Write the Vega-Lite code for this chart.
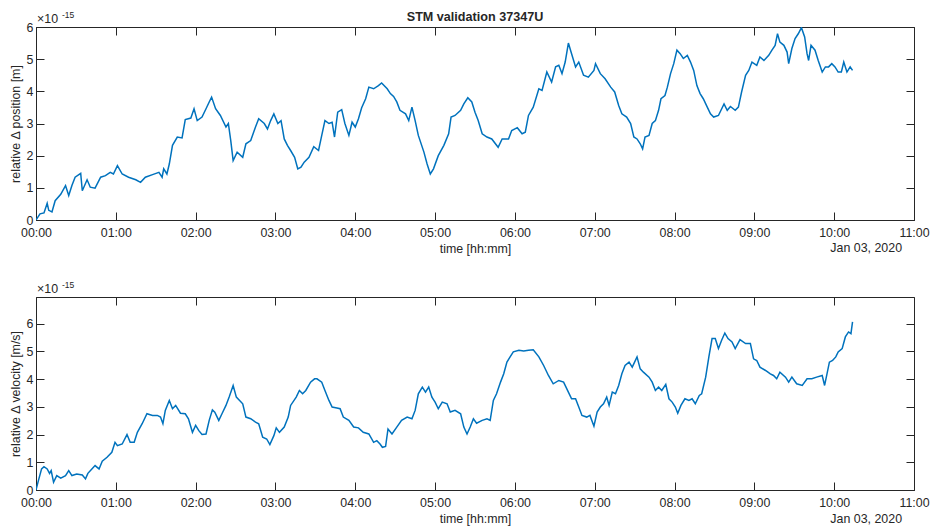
{
"$schema": "https://vega.github.io/schema/vega-lite/v6.json",
"padding": {"left": 8, "top": 10, "right": 0, "bottom": 0},
"background": "white",
"spacing": 24,
"config": {
  "font": "Liberation Sans",
  "view": {"stroke": "#262626", "strokeWidth": 1},
  "axis": {"domainColor": "#262626", "tickColor": "#262626", "labelColor": "#262626", "titleColor": "#262626", "labelFont": "Liberation Sans", "titleFont": "Liberation Sans", "labelFontSize": 12.4, "titleFontSize": 12.4, "titleFontWeight": "normal", "grid": false, "tickSize": -8, "tickWidth": 1, "domainWidth": 1, "labelFlush": false, "labelOverlap": false},
  "text": {"font": "Liberation Sans", "color": "#262626"}
},
"datasets": {
"pos": [{"h":0,"v":0},{"h":0.05,"v":0.19},{"h":0.1,"v":0.22},{"h":0.14,"v":0.52},{"h":0.16,"v":0.3},{"h":0.2,"v":0.25},{"h":0.24,"v":0.6},{"h":0.31,"v":0.8},{"h":0.37,"v":1.07},{"h":0.41,"v":0.76},{"h":0.45,"v":1.07},{"h":0.49,"v":1.33},{"h":0.56,"v":1.45},{"h":0.58,"v":0.91},{"h":0.64,"v":1.25},{"h":0.68,"v":1.02},{"h":0.74,"v":0.99},{"h":0.81,"v":1.33},{"h":0.87,"v":1.38},{"h":0.93,"v":1.48},{"h":0.97,"v":1.43},{"h":1.02,"v":1.69},{"h":1.08,"v":1.43},{"h":1.16,"v":1.33},{"h":1.25,"v":1.25},{"h":1.31,"v":1.17},{"h":1.37,"v":1.33},{"h":1.46,"v":1.41},{"h":1.54,"v":1.48},{"h":1.58,"v":1.33},{"h":1.6,"v":1.59},{"h":1.64,"v":1.43},{"h":1.67,"v":1.74},{"h":1.71,"v":2.32},{"h":1.77,"v":2.58},{"h":1.83,"v":2.55},{"h":1.87,"v":3.12},{"h":1.94,"v":3.17},{"h":1.98,"v":3.46},{"h":2.02,"v":3.09},{"h":2.08,"v":3.2},{"h":2.13,"v":3.46},{"h":2.17,"v":3.67},{"h":2.2,"v":3.82},{"h":2.25,"v":3.46},{"h":2.31,"v":3.25},{"h":2.38,"v":2.89},{"h":2.41,"v":3.0},{"h":2.44,"v":2.47},{"h":2.47,"v":1.85},{"h":2.52,"v":2.11},{"h":2.59,"v":1.95},{"h":2.63,"v":2.37},{"h":2.69,"v":2.47},{"h":2.75,"v":2.89},{"h":2.79,"v":3.15},{"h":2.86,"v":3.0},{"h":2.9,"v":2.83},{"h":2.94,"v":3.09},{"h":2.98,"v":3.3},{"h":3.03,"v":3.0},{"h":3.07,"v":3.09},{"h":3.11,"v":2.52},{"h":3.15,"v":2.32},{"h":3.19,"v":2.16},{"h":3.24,"v":1.95},{"h":3.28,"v":1.59},{"h":3.32,"v":1.64},{"h":3.36,"v":1.8},{"h":3.42,"v":1.95},{"h":3.48,"v":2.28},{"h":3.54,"v":2.16},{"h":3.58,"v":2.63},{"h":3.62,"v":3.09},{"h":3.67,"v":3.0},{"h":3.71,"v":3.04},{"h":3.74,"v":2.58},{"h":3.78,"v":3.35},{"h":3.83,"v":3.43},{"h":3.87,"v":3.0},{"h":3.92,"v":2.63},{"h":3.96,"v":3.04},{"h":4.0,"v":2.89},{"h":4.04,"v":3.15},{"h":4.08,"v":3.49},{"h":4.13,"v":3.77},{"h":4.17,"v":4.13},{"h":4.23,"v":4.08},{"h":4.29,"v":4.18},{"h":4.33,"v":4.26},{"h":4.4,"v":4.08},{"h":4.44,"v":3.93},{"h":4.48,"v":3.84},{"h":4.52,"v":3.67},{"h":4.56,"v":3.41},{"h":4.63,"v":3.3},{"h":4.67,"v":3.09},{"h":4.71,"v":3.51},{"h":4.75,"v":3.09},{"h":4.79,"v":2.63},{"h":4.86,"v":2.11},{"h":4.9,"v":1.74},{"h":4.94,"v":1.43},{"h":4.98,"v":1.59},{"h":5.04,"v":2.0},{"h":5.11,"v":2.32},{"h":5.17,"v":2.68},{"h":5.2,"v":3.2},{"h":5.25,"v":3.25},{"h":5.32,"v":3.41},{"h":5.36,"v":3.61},{"h":5.41,"v":3.8},{"h":5.46,"v":3.67},{"h":5.5,"v":3.35},{"h":5.54,"v":3.09},{"h":5.59,"v":2.68},{"h":5.65,"v":2.58},{"h":5.71,"v":2.52},{"h":5.79,"v":2.26},{"h":5.84,"v":2.52},{"h":5.92,"v":2.52},{"h":5.96,"v":2.78},{"h":6.03,"v":2.87},{"h":6.09,"v":2.68},{"h":6.13,"v":2.73},{"h":6.17,"v":3.25},{"h":6.23,"v":3.51},{"h":6.3,"v":4.08},{"h":6.34,"v":4.03},{"h":6.4,"v":4.6},{"h":6.46,"v":4.29},{"h":6.51,"v":4.76},{"h":6.55,"v":4.81},{"h":6.59,"v":4.55},{"h":6.63,"v":4.91},{"h":6.67,"v":5.5},{"h":6.71,"v":5.17},{"h":6.76,"v":4.76},{"h":6.8,"v":4.91},{"h":6.86,"v":4.5},{"h":6.92,"v":4.44},{"h":6.99,"v":4.65},{"h":7.01,"v":4.86},{"h":7.07,"v":4.55},{"h":7.13,"v":4.39},{"h":7.2,"v":4.13},{"h":7.25,"v":3.98},{"h":7.3,"v":3.56},{"h":7.34,"v":3.3},{"h":7.4,"v":3.2},{"h":7.45,"v":3.0},{"h":7.49,"v":2.58},{"h":7.53,"v":2.52},{"h":7.57,"v":2.37},{"h":7.6,"v":2.21},{"h":7.63,"v":2.58},{"h":7.68,"v":2.63},{"h":7.72,"v":3.0},{"h":7.76,"v":3.09},{"h":7.8,"v":3.41},{"h":7.83,"v":3.77},{"h":7.88,"v":3.87},{"h":7.91,"v":4.13},{"h":7.95,"v":4.55},{"h":7.99,"v":4.86},{"h":8.03,"v":5.28},{"h":8.07,"v":5.17},{"h":8.11,"v":5.02},{"h":8.16,"v":5.12},{"h":8.2,"v":4.91},{"h":8.24,"v":4.65},{"h":8.28,"v":4.18},{"h":8.32,"v":3.93},{"h":8.36,"v":3.77},{"h":8.41,"v":3.51},{"h":8.45,"v":3.3},{"h":8.49,"v":3.2},{"h":8.55,"v":3.25},{"h":8.62,"v":3.61},{"h":8.66,"v":3.41},{"h":8.7,"v":3.53},{"h":8.76,"v":3.41},{"h":8.8,"v":3.51},{"h":8.84,"v":3.98},{"h":8.89,"v":4.5},{"h":8.93,"v":4.65},{"h":8.97,"v":4.91},{"h":9.03,"v":4.81},{"h":9.07,"v":5.07},{"h":9.12,"v":4.96},{"h":9.18,"v":5.12},{"h":9.22,"v":5.28},{"h":9.26,"v":5.43},{"h":9.29,"v":5.79},{"h":9.32,"v":5.53},{"h":9.37,"v":5.43},{"h":9.41,"v":5.22},{"h":9.43,"v":4.86},{"h":9.47,"v":5.33},{"h":9.51,"v":5.64},{"h":9.55,"v":5.79},{"h":9.59,"v":5.98},{"h":9.63,"v":5.69},{"h":9.66,"v":5.17},{"h":9.68,"v":4.96},{"h":9.71,"v":5.43},{"h":9.76,"v":5.28},{"h":9.8,"v":4.96},{"h":9.85,"v":4.6},{"h":9.89,"v":4.76},{"h":9.93,"v":4.76},{"h":9.97,"v":4.86},{"h":10.01,"v":4.76},{"h":10.05,"v":4.6},{"h":10.09,"v":4.6},{"h":10.12,"v":4.91},{"h":10.16,"v":4.6},{"h":10.2,"v":4.76},{"h":10.23,"v":4.65}],
"vel": [{"h":0,"v":0},{"h":0.03,"v":0.34},{"h":0.07,"v":0.76},{"h":0.1,"v":0.84},{"h":0.14,"v":0.76},{"h":0.17,"v":0.6},{"h":0.19,"v":0.7},{"h":0.22,"v":0.28},{"h":0.26,"v":0.52},{"h":0.31,"v":0.43},{"h":0.37,"v":0.52},{"h":0.41,"v":0.7},{"h":0.45,"v":0.52},{"h":0.51,"v":0.58},{"h":0.58,"v":0.54},{"h":0.62,"v":0.4},{"h":0.65,"v":0.6},{"h":0.7,"v":0.76},{"h":0.74,"v":0.88},{"h":0.79,"v":0.76},{"h":0.83,"v":1.04},{"h":0.89,"v":1.18},{"h":0.95,"v":1.36},{"h":0.99,"v":1.72},{"h":1.02,"v":1.6},{"h":1.08,"v":1.66},{"h":1.14,"v":2.0},{"h":1.18,"v":1.72},{"h":1.23,"v":1.72},{"h":1.27,"v":2.08},{"h":1.33,"v":2.39},{"h":1.39,"v":2.75},{"h":1.46,"v":2.69},{"h":1.52,"v":2.69},{"h":1.56,"v":2.63},{"h":1.59,"v":2.39},{"h":1.62,"v":2.87},{"h":1.67,"v":3.23},{"h":1.71,"v":2.93},{"h":1.75,"v":3.05},{"h":1.81,"v":2.77},{"h":1.87,"v":2.75},{"h":1.91,"v":2.57},{"h":1.96,"v":2.08},{"h":2.0,"v":2.33},{"h":2.04,"v":2.14},{"h":2.08,"v":2.0},{"h":2.13,"v":2.02},{"h":2.17,"v":2.51},{"h":2.21,"v":2.89},{"h":2.24,"v":2.81},{"h":2.29,"v":2.51},{"h":2.33,"v":2.75},{"h":2.38,"v":3.05},{"h":2.42,"v":3.35},{"h":2.47,"v":3.77},{"h":2.51,"v":3.35},{"h":2.59,"v":3.11},{"h":2.63,"v":2.63},{"h":2.69,"v":2.57},{"h":2.75,"v":2.45},{"h":2.79,"v":2.39},{"h":2.84,"v":1.9},{"h":2.89,"v":1.84},{"h":2.93,"v":1.64},{"h":2.98,"v":1.96},{"h":3.01,"v":2.24},{"h":3.05,"v":2.08},{"h":3.11,"v":2.27},{"h":3.16,"v":2.63},{"h":3.19,"v":3.05},{"h":3.26,"v":3.35},{"h":3.3,"v":3.59},{"h":3.34,"v":3.47},{"h":3.38,"v":3.59},{"h":3.44,"v":3.89},{"h":3.49,"v":4.01},{"h":3.52,"v":4.01},{"h":3.58,"v":3.89},{"h":3.62,"v":3.59},{"h":3.67,"v":3.23},{"h":3.71,"v":2.99},{"h":3.77,"v":2.96},{"h":3.81,"v":2.93},{"h":3.85,"v":2.63},{"h":3.92,"v":2.51},{"h":3.98,"v":2.27},{"h":4.04,"v":2.24},{"h":4.1,"v":2.08},{"h":4.17,"v":2.02},{"h":4.23,"v":1.72},{"h":4.27,"v":1.78},{"h":4.31,"v":1.66},{"h":4.34,"v":1.54},{"h":4.38,"v":1.57},{"h":4.41,"v":2.2},{"h":4.46,"v":2.02},{"h":4.52,"v":2.27},{"h":4.58,"v":2.51},{"h":4.65,"v":2.63},{"h":4.71,"v":2.57},{"h":4.75,"v":2.87},{"h":4.79,"v":3.47},{"h":4.84,"v":3.71},{"h":4.88,"v":3.53},{"h":4.92,"v":3.71},{"h":4.96,"v":3.35},{"h":5.0,"v":3.17},{"h":5.04,"v":2.93},{"h":5.09,"v":3.17},{"h":5.15,"v":3.11},{"h":5.19,"v":2.81},{"h":5.25,"v":2.87},{"h":5.32,"v":2.75},{"h":5.36,"v":2.27},{"h":5.4,"v":2.02},{"h":5.44,"v":2.27},{"h":5.48,"v":2.57},{"h":5.52,"v":2.41},{"h":5.59,"v":2.51},{"h":5.65,"v":2.57},{"h":5.69,"v":2.51},{"h":5.73,"v":3.23},{"h":5.77,"v":3.47},{"h":5.82,"v":3.89},{"h":5.86,"v":4.19},{"h":5.9,"v":4.61},{"h":5.94,"v":4.8},{"h":5.98,"v":4.98},{"h":6.05,"v":5.04},{"h":6.11,"v":5.01},{"h":6.17,"v":5.04},{"h":6.23,"v":5.06},{"h":6.3,"v":4.8},{"h":6.36,"v":4.49},{"h":6.42,"v":4.13},{"h":6.48,"v":3.83},{"h":6.55,"v":3.95},{"h":6.61,"v":3.89},{"h":6.67,"v":3.53},{"h":6.71,"v":3.29},{"h":6.76,"v":3.29},{"h":6.8,"v":2.99},{"h":6.84,"v":2.69},{"h":6.9,"v":2.63},{"h":6.94,"v":2.69},{"h":6.99,"v":2.3},{"h":7.03,"v":2.81},{"h":7.07,"v":2.99},{"h":7.11,"v":3.11},{"h":7.15,"v":3.35},{"h":7.18,"v":3.05},{"h":7.22,"v":3.53},{"h":7.26,"v":3.47},{"h":7.3,"v":3.77},{"h":7.34,"v":4.19},{"h":7.38,"v":4.49},{"h":7.43,"v":4.61},{"h":7.47,"v":4.43},{"h":7.53,"v":4.8},{"h":7.57,"v":4.37},{"h":7.61,"v":4.25},{"h":7.68,"v":4.07},{"h":7.72,"v":3.89},{"h":7.76,"v":3.59},{"h":7.8,"v":3.71},{"h":7.84,"v":3.59},{"h":7.89,"v":3.81},{"h":7.93,"v":3.29},{"h":7.97,"v":3.17},{"h":8.01,"v":2.99},{"h":8.04,"v":2.77},{"h":8.08,"v":3.05},{"h":8.13,"v":3.29},{"h":8.18,"v":3.23},{"h":8.22,"v":3.29},{"h":8.26,"v":3.11},{"h":8.31,"v":3.41},{"h":8.34,"v":3.47},{"h":8.39,"v":4.07},{"h":8.43,"v":4.8},{"h":8.47,"v":5.46},{"h":8.51,"v":5.46},{"h":8.55,"v":5.1},{"h":8.59,"v":5.4},{"h":8.63,"v":5.66},{"h":8.67,"v":5.46},{"h":8.72,"v":5.34},{"h":8.76,"v":5.1},{"h":8.82,"v":5.42},{"h":8.89,"v":5.28},{"h":8.95,"v":5.28},{"h":8.99,"v":4.73},{"h":9.03,"v":4.67},{"h":9.07,"v":4.43},{"h":9.14,"v":4.31},{"h":9.2,"v":4.19},{"h":9.24,"v":4.13},{"h":9.28,"v":4.01},{"h":9.32,"v":4.25},{"h":9.39,"v":4.07},{"h":9.43,"v":3.89},{"h":9.47,"v":4.07},{"h":9.53,"v":3.83},{"h":9.6,"v":3.77},{"h":9.66,"v":4.01},{"h":9.72,"v":4.01},{"h":9.78,"v":4.07},{"h":9.85,"v":4.13},{"h":9.88,"v":3.77},{"h":9.91,"v":4.19},{"h":9.94,"v":4.61},{"h":9.98,"v":4.67},{"h":10.02,"v":4.8},{"h":10.05,"v":4.98},{"h":10.1,"v":5.1},{"h":10.14,"v":5.52},{"h":10.18,"v":5.7},{"h":10.21,"v":5.64},{"h":10.23,"v":6.06}],
"note": [{"t": "Jan 03, 2020"}],
"mult": [{"t": "×10"}],
"exp": [{"t": "-15"}],
"ttl": [{"t": "STM validation 37347U"}]
},
"vconcat": [
 {
  "width": 878, "height": 193,
  "layer": [
   {"data": {"name": "pos"}, "mark": {"type": "line", "color": "#0072BD", "strokeWidth": 1.5, "clip": true},
    "encoding": {
     "x": {"field": "h", "type": "quantitative", "scale": {"domain": [0, 11], "nice": false, "zero": false},
       "axis": {"orient": "bottom", "values": [0,1,2,3,4,5,6,7,8,9,10,11], "labelExpr": "(datum.value < 10 ? '0' : '') + datum.value + ':00'", "labelPadding": 14, "title": "time [hh:mm]", "titlePadding": 4}},
     "y": {"field": "v", "type": "quantitative", "scale": {"domain": [0, 6], "nice": false},
       "axis": {"orient": "left", "values": [0,1,2,3,4,5,6], "format": "d", "labelPadding": 11, "title": "relative Δ position [m]", "titlePadding": 4}}
    }},
   {"data": {"name": "pos"}, "mark": {"type": "line", "opacity": 0},
    "encoding": {
     "x": {"field": "h", "type": "quantitative", "axis": {"orient": "top", "values": [0,1,2,3,4,5,6,7,8,9,10,11], "labels": false, "domain": false, "title": null}},
     "y": {"field": "v", "type": "quantitative", "axis": {"orient": "right", "values": [0,1,2,3,4,5,6], "labels": false, "domain": false, "title": null}}
    }},
   {"data": {"name": "ttl"}, "mark": {"type": "text", "align": "center", "baseline": "middle", "fontSize": 12.6, "fontWeight": "bold"},
    "encoding": {"text": {"field": "t"}, "x": {"datum": 5.5, "axis": null}, "y": {"datum": 6.31, "axis": null}}},
   {"data": {"name": "note"}, "mark": {"type": "text", "align": "right", "baseline": "middle", "fontSize": 12.4},
    "encoding": {"text": {"field": "t"}, "x": {"datum": 10.85, "axis": null}, "y": {"datum": -0.87, "axis": null}}},
   {"data": {"name": "mult"}, "mark": {"type": "text", "align": "left", "baseline": "alphabetic", "fontSize": 12.4, "dx": 1},
    "encoding": {"text": {"field": "t"}, "x": {"datum": 0, "axis": null}, "y": {"datum": 6.115, "axis": null}}},
   {"data": {"name": "exp"}, "mark": {"type": "text", "align": "left", "baseline": "alphabetic", "fontSize": 8.5, "dx": 26},
    "encoding": {"text": {"field": "t"}, "x": {"datum": 0, "axis": null}, "y": {"datum": 6.27, "axis": null}}}
  ],
  "resolve": {"axis": {"x": "independent", "y": "independent"}}
 },
 {
  "width": 878, "height": 193,
  "layer": [
   {"data": {"name": "vel"}, "mark": {"type": "line", "color": "#0072BD", "strokeWidth": 1.5, "clip": true},
    "encoding": {
     "x": {"field": "h", "type": "quantitative", "scale": {"domain": [0, 11], "nice": false, "zero": false},
       "axis": {"orient": "bottom", "values": [0,1,2,3,4,5,6,7,8,9,10,11], "labelExpr": "(datum.value < 10 ? '0' : '') + datum.value + ':00'", "labelPadding": 14, "title": "time [hh:mm]", "titlePadding": 4}},
     "y": {"field": "v", "type": "quantitative", "scale": {"domain": [0, 6.96], "nice": false},
       "axis": {"orient": "left", "values": [0,1,2,3,4,5,6], "format": "d", "labelPadding": 11, "title": "relative Δ velocity [m/s]", "titlePadding": 4}}
    }},
   {"data": {"name": "vel"}, "mark": {"type": "line", "opacity": 0},
    "encoding": {
     "x": {"field": "h", "type": "quantitative", "axis": {"orient": "top", "values": [0,1,2,3,4,5,6,7,8,9,10,11], "labels": false, "domain": false, "title": null}},
     "y": {"field": "v", "type": "quantitative", "axis": {"orient": "right", "values": [0,1,2,3,4,5,6], "labels": false, "domain": false, "title": null}}
    }},
   {"data": {"name": "note"}, "mark": {"type": "text", "align": "right", "baseline": "middle", "fontSize": 12.4},
    "encoding": {"text": {"field": "t"}, "x": {"datum": 10.85, "axis": null}, "y": {"datum": -1.04, "axis": null}}},
   {"data": {"name": "mult"}, "mark": {"type": "text", "align": "left", "baseline": "alphabetic", "fontSize": 12.4, "dx": 1},
    "encoding": {"text": {"field": "t"}, "x": {"datum": 0, "axis": null}, "y": {"datum": 7.1, "axis": null}}},
   {"data": {"name": "exp"}, "mark": {"type": "text", "align": "left", "baseline": "alphabetic", "fontSize": 8.5, "dx": 26},
    "encoding": {"text": {"field": "t"}, "x": {"datum": 0, "axis": null}, "y": {"datum": 7.29, "axis": null}}}
  ],
  "resolve": {"axis": {"x": "independent", "y": "independent"}}
 }
]
}
